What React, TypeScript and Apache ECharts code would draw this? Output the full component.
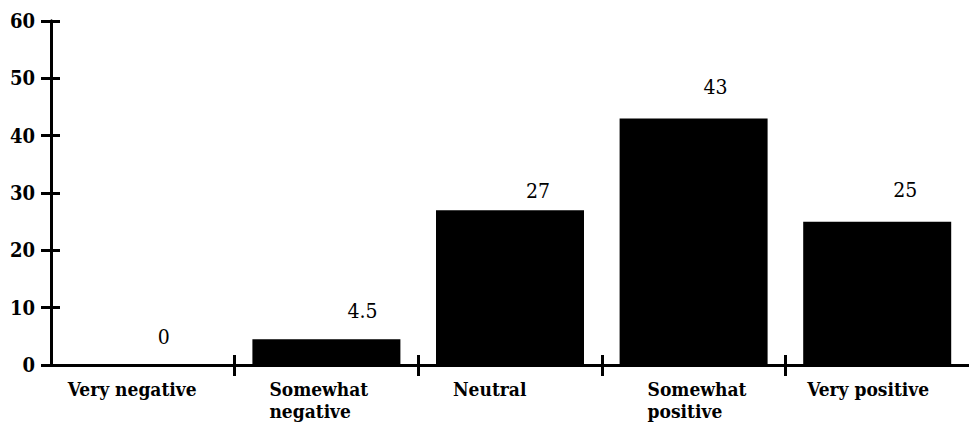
import React, { useEffect, useRef } from "react";
import * as echarts from "echarts";

// Survey response distribution (percent of respondents)
const categories = [
  "Very negative",
  "Somewhat negative",
  "Neutral",
  "Somewhat positive",
  "Very positive",
];
const categoryLines = [
  ["Very negative"],
  ["Somewhat", "negative"],
  ["Neutral"],
  ["Somewhat", "positive"],
  ["Very positive"],
];
const values = [0, 4.5, 27, 43, 25];
const yTicks = { min: 0, max: 60, interval: 10 };
const boundaryTicks = [1, 2, 3, 4];

// Label placement tweaks (pixels)
const valueLabelNudge: [number, number][] = [
  [21, -18],
  [36, -18],
  [28, -9],
  [22, -21],
  [28, -21],
];
const categoryLabelBoxWidth = [150, 114, 114, 92, 140];

const SERIF = "DejaVu Serif Condensed";
const styleKeys = ["a", "b", "c", "d", "e"];

export default function App() {
  const ref = useRef<HTMLDivElement>(null);

  useEffect(() => {
    if (!ref.current) return;
    const chart = echarts.init(ref.current, null, { renderer: "svg" });

    const rich: Record<string, any> = {};
    styleKeys.forEach((k, i) => {
      rich[k] = {
        width: categoryLabelBoxWidth[i],
        align: "left",
        fontFamily: SERIF,
        fontSize: 19,
        fontWeight: "bold",
        color: "#000",
        lineHeight: 22,
      };
    });

    const tickAxisBase = {
      type: "value" as const,
      min: 0,
      max: categories.length,
      position: "bottom" as const,
      axisLine: { show: false },
      axisLabel: { show: false },
      splitLine: { show: false },
    };

    const yBase = {
      type: "value" as const,
      min: yTicks.min,
      max: yTicks.max,
      interval: yTicks.interval,
      position: "left" as const,
      splitLine: { show: false },
      axisLine: { show: true, lineStyle: { color: "#000", width: 3 } },
    };

    chart.setOption({
      animation: false,
      backgroundColor: "#fff",
      grid: { left: 51, right: 0, top: 21, bottom: 63, containLabel: false },
      xAxis: [
        {
          type: "category",
          data: categories,
          position: "bottom",
          axisLine: { show: true, lineStyle: { color: "#000", width: 3 } },
          axisTick: { show: false },
          axisLabel: {
            interval: 0,
            margin: 13,
            formatter: (_v: string, idx: number) =>
              categoryLines[idx]
                .map((line) => `{${styleKeys[idx]}|${line}}`)
                .join("\n"),
            rich,
          },
        },
        {
          ...tickAxisBase,
          axisTick: {
            show: true,
            inside: true,
            length: 10,
            customValues: boundaryTicks,
            lineStyle: { color: "#000", width: 3 },
          },
        },
        {
          ...tickAxisBase,
          axisTick: {
            show: true,
            inside: false,
            length: 11,
            customValues: boundaryTicks,
            lineStyle: { color: "#000", width: 3 },
          },
        },
      ],
      yAxis: [
        {
          ...yBase,
          axisTick: {
            show: true,
            inside: false,
            length: 10,
            lineStyle: { color: "#000", width: 3 },
          },
          axisLabel: {
            margin: 16,
            fontFamily: SERIF,
            fontSize: 20,
            fontWeight: "bold",
            color: "#000",
          },
        },
        {
          ...yBase,
          axisTick: {
            show: true,
            inside: true,
            length: 9,
            lineStyle: { color: "#000", width: 3 },
          },
          axisLabel: { show: false },
        },
      ],
      series: [
        {
          type: "bar",
          xAxisIndex: 0,
          yAxisIndex: 0,
          barWidth: 148,
          itemStyle: { color: "#000" },
          data: values.map((v, i) => ({
            value: v,
            label: {
              show: true,
              position: "top",
              distance: 0,
              offset: valueLabelNudge[i],
              fontFamily: SERIF,
              fontSize: 21,
              color: "#000",
              formatter: String(v),
            },
          })),
        },
      ],
    });

    return () => chart.dispose();
  }, []);

  return (
    <div
      ref={ref}
      style={{
        position: "fixed",
        left: 0,
        top: 0,
        width: 969,
        height: 428,
        background: "#fff",
      }}
    />
  );
}
